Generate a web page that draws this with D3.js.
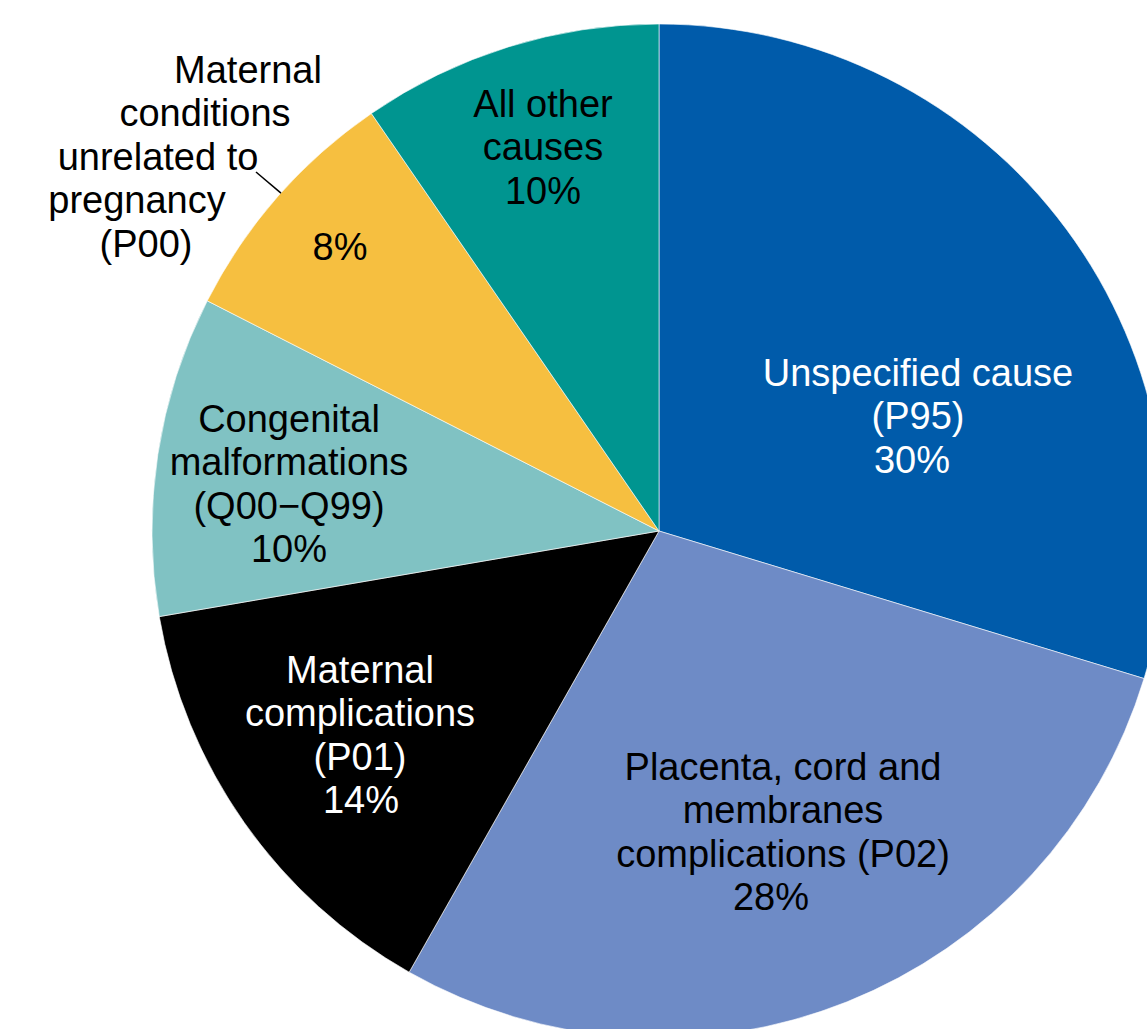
<!DOCTYPE html>
<html>
<head>
<meta charset="utf-8">
<script src="https://cdn.jsdelivr.net/npm/d3@7.9.0/dist/d3.min.js"></script>
<style>
  html, body { margin: 0; padding: 0; background: #fff; overflow: hidden; }
  svg { display: block; font-family: "Liberation Sans", Arial, sans-serif; }
</style>
</head>
<body>
<svg id="chart" width="1147" height="1029"></svg>
<script>
// slice data, clockwise from 12 o'clock
const categories = [
  'Unspecified cause (P95)',
  'Placenta, cord and membranes complications (P02)',
  'Maternal complications (P01)',
  'Congenital malformations (Q00–Q99)',
  'Maternal conditions unrelated to pregnancy (P00)',
  'All other causes'
];
const values = [29.7, 28.5, 14.1, 10.2, 7.9, 9.6];
const pctLabels = ['30%', '28%', '14%', '10%', '8%', '10%'];
const nameLines = [
  ['Unspecified cause', '(P95)'],
  ['Placenta, cord and', 'membranes', 'complications (P02)'],
  ['Maternal', 'complications', '(P01)'],
  ['Congenital', 'malformations', '(Q00\u2212Q99)'],
  [],
  ['All other', 'causes']
];
const outsideLines = ['Maternal', 'conditions', 'unrelated to', 'pregnancy', '(P00)'];

const colors = ['#005BAA', '#6E8BC6', '#000000', '#80C2C3', '#F6BF40', '#009590'];
const textColors = ['#fff', '#000', '#fff', '#000', '#000', '#000'];

// layout (relative to pie centre): first-baseline position, and shift for the % line
const labelPos = [[259, -145, -6], [124, 249, -12], [-299, 152, 1], [-370, -99, 0], [-319, -271, 0], [-116, -414, 0]];
const outsidePos = [[-411, -448], [-454, -405], [-501, -361], [-522, -318], [-513, -274]];

const width = 1147, height = 1029;
const cx = 659, cy = 531, radius = 507;
const fontSize = 38, lineH = 43.3;

const svg = d3.select('#chart');
const g = svg.append('g').attr('transform', `translate(${cx},${cy})`);

const pie = d3.pie().sort(null).value(d => d);
const arcData = pie(values);
const arcGen = d3.arc().innerRadius(0).outerRadius(radius);

g.selectAll('path.slice')
  .data(arcData)
  .join('path')
  .attr('class', 'slice')
  .attr('d', arcGen)
  .attr('fill', (d, i) => colors[i])
  .attr('stroke', '#fff')
  .attr('stroke-width', 0.6);

// labels inside slices
arcData.forEach((d, i) => {
  const lines = nameLines[i].concat([pctLabels[i]]);
  const [lx, ly, pdx] = labelPos[i];
  const t = g.append('text')
    .attr('text-anchor', 'middle')
    .attr('font-size', fontSize)
    .attr('fill', textColors[i]);
  lines.forEach((ln, j) => {
    t.append('tspan')
      .attr('x', lx + (j === lines.length - 1 ? pdx : 0))
      .attr('y', ly + j * lineH)
      .text(ln);
  });
});

// outside label for P00 with leader line
const ot = g.append('text')
  .attr('text-anchor', 'middle')
  .attr('font-size', fontSize)
  .attr('fill', '#000');
outsideLines.forEach((ln, j) => {
  ot.append('tspan')
    .attr('x', outsidePos[j][0])
    .attr('y', outsidePos[j][1])
    .text(ln);
});

// leader from label to slice edge
const p00 = arcData[4];
const edgeAngle = p00.startAngle + (p00.endAngle - p00.startAngle) * 0.52;
const edge = [radius * Math.sin(edgeAngle), -radius * Math.cos(edgeAngle)];
g.append('line')
  .attr('x1', 256 - cx).attr('y1', 172 - cy)
  .attr('x2', edge[0]).attr('y2', edge[1])
  .attr('stroke', '#000')
  .attr('stroke-width', 1.5);
</script>
</body>
</html>
